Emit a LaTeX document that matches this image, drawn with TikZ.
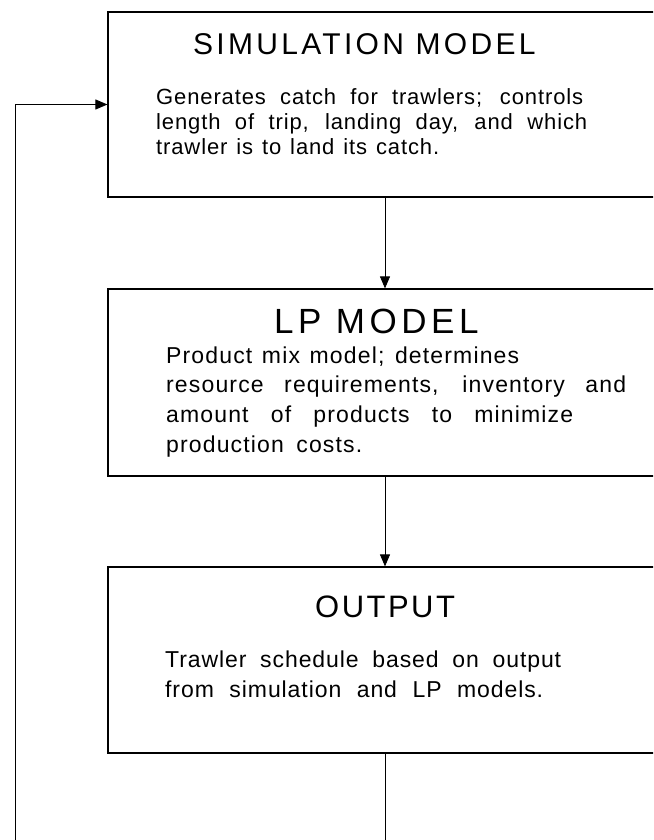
\documentclass[tikz,border=0pt]{standalone}
\usepackage{fontspec}
\setmainfont{Liberation Sans}
\newfontfamily\titlefont{Liberation Sans}
\newfontfamily\bodyfont{Liberation Sans}
\usetikzlibrary{arrows.meta}
\tikzset{
  box/.style={draw, line width=1.2pt, minimum width=554pt, inner sep=0pt},
  link/.style={line width=0.9pt, -{Triangle[length=12pt,width=10pt]}},
  simtitle/.style={anchor=base west, inner sep=0pt, font={\titlefont\fontsize{30}{36}\selectfont\addfontfeature{LetterSpace=11}}},
  lptitle/.style={anchor=base west, inner sep=0pt, font={\titlefont\fontsize{35}{42}\selectfont\addfontfeature{LetterSpace=13}}},
  outtitle/.style={anchor=base west, inner sep=0pt, font={\titlefont\fontsize{31}{37}\selectfont\addfontfeature{LetterSpace=8}}},
  bodyA/.style={anchor=base west, inner sep=0pt, font={\bodyfont\fontsize{22}{26}\selectfont\addfontfeature{LetterSpace=4}}},
  bodyB/.style={anchor=base west, inner sep=0pt, font={\bodyfont\fontsize{23}{28}\selectfont\addfontfeature{LetterSpace=5}}},
  bodyC/.style={anchor=base west, inner sep=0pt, font={\bodyfont\fontsize{23}{28}\selectfont\addfontfeature{LetterSpace=4}}}
}
\begin{document}
\begin{tikzpicture}[x=1pt,y=-1pt]
\useasboundingbox (0,0) rectangle (653,840);
\clip (0,0) rectangle (653,840);
\fill[white] (0,0) rectangle (653,840);

% boxes
\node[box, minimum height=185pt] (sim) at (385,104.5) {};
\node[box, minimum height=187pt] (lp) at (385,382.5) {};
\node[box, minimum height=186pt] (out) at (385,660) {};

% box 1 text
\node[simtitle] (simt) at (193,55) {SIMULATION MODEL};
\node[bodyA] (s1) at (156,105) {\makebox[427pt][s]{Generates catch for trawlers; controls}};
\node[bodyA] (s2) at (156,129) {\makebox[431pt][s]{length of trip, landing day, and which}};
\node[bodyA] (s3) at (156,154) {\makebox[283pt][s]{trawler is to land its catch.}};

% box 2 text
\node[lptitle] (lpt) at (274,333) {LP MODEL};
\node[bodyB] (l1) at (166,363) {\makebox[353pt][s]{Product mix model; determines}};
\node[bodyB] (l2) at (166,392) {\makebox[460pt][s]{resource requirements, inventory and}};
\node[bodyB] (l3) at (166,422) {\makebox[407pt][s]{amount of products to minimize}};
\node[bodyB] (l4) at (166,452) {\makebox[196pt][s]{production costs.}};

% box 3 text
\node[outtitle] (outt) at (315,617) {OUTPUT};
\node[bodyC] (o1) at (165,667) {\makebox[396pt][s]{Trawler schedule based on output}};
\node[bodyC] (o2) at (165,697) {\makebox[378pt][s]{from simulation and LP models.}};

% connectors
\draw[link] (sim.south) -- (lp.north);
\draw[link] (lp.south) -- (out.north);
\coordinate (c1) at (385,850);
\coordinate (c2) at (15,850);
\draw[link] (out.south) -- (c1) -- (c2) |- (sim.west);
\end{tikzpicture}
\end{document}
